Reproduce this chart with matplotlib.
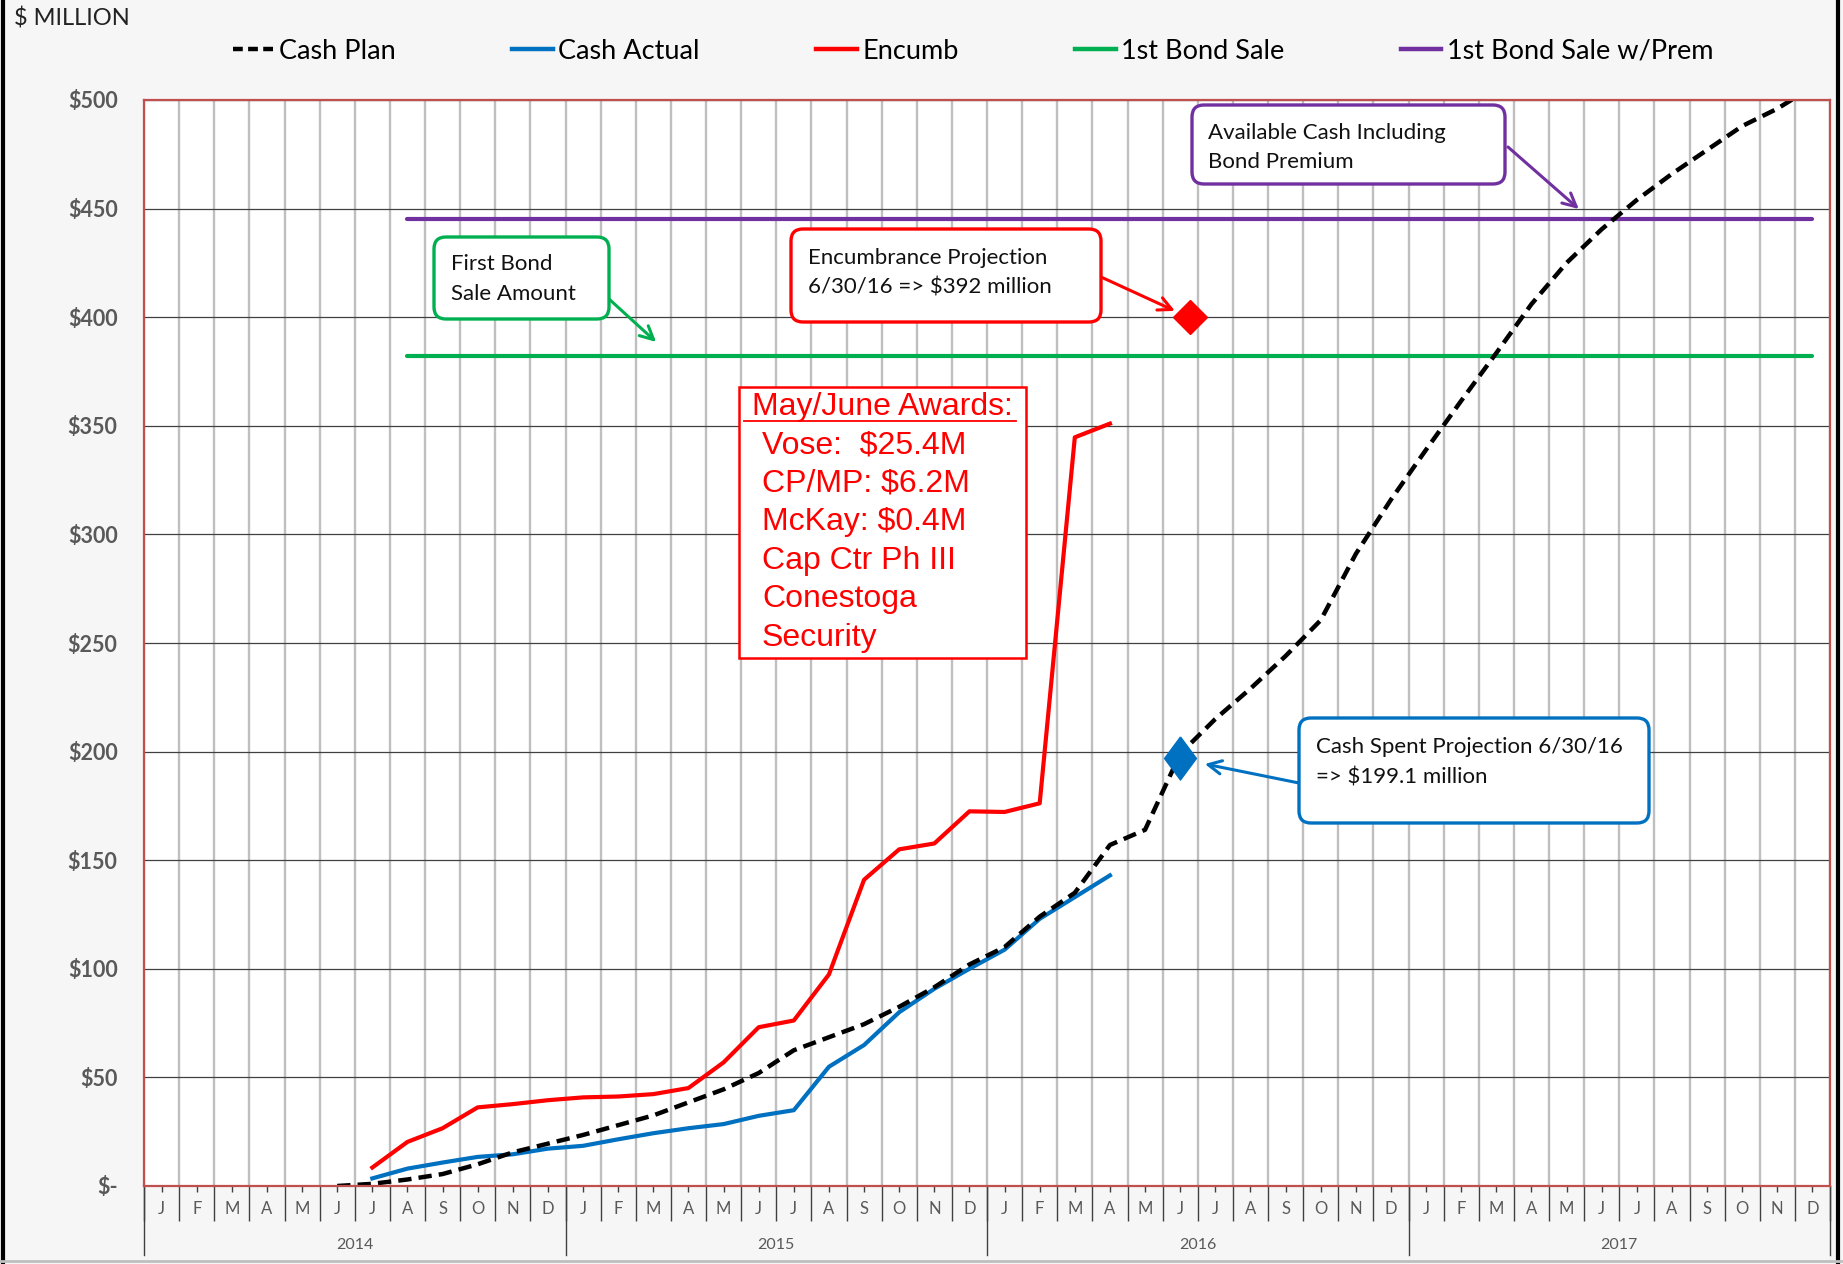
import numpy as np
import matplotlib
matplotlib.use('Agg')
import matplotlib.pyplot as plt
import matplotlib.transforms as mtransforms
from matplotlib.patches import FancyBboxPatch, Rectangle
from matplotlib.lines import Line2D

plt.rcParams['font.family'] = ['Lato', 'DejaVu Sans']

# ---------------- data ----------------
month_labels = ['J', 'F', 'M', 'A', 'M', 'J', 'J', 'A', 'S', 'O', 'N', 'D'] * 4
year_labels = ['2014', '2015', '2016', '2017']
y_ticks = [0, 50, 100, 150, 200, 250, 300, 350, 400, 450, 500]
y_tick_labels = ['$-', '$50', '$100', '$150', '$200', '$250', '$300',
                 '$350', '$400', '$450', '$500']

# month index 0 = Jan 2014
cash_plan_start = 5   # Jun 2014
cash_plan = [0, 1, 3, 5.5, 10, 15.5, 19.5,
             23.5, 28, 32.5, 38.5, 44.5, 52, 62.5, 68.5, 74.5, 82.5, 91.5, 102,
             110, 124, 135, 157, 164, 199, 215, 229, 244, 260.5, 291, 316,
             339, 361.5, 383.5, 406, 425, 440.5, 454, 466, 477, 488, 496, 506]

cash_actual_start = 6  # Jul 2014
cash_actual = [3.5, 8, 10.8, 13.4, 14.6, 17.2,
               18.5, 21.5, 24.3, 26.6, 28.5, 32.3, 34.9, 54.9, 64.9, 80, 90.8, 100,
               108.8, 123, 133, 143]

encumb_start = 6  # Jul 2014
encumb = [8.5, 20.3, 26.6, 36.2, 37.7, 39.5,
          40.8, 41.2, 42.3, 45.1, 56.9, 73.1, 76.2, 97.4, 141, 155, 157.7, 172.5,
          172.2, 176.2, 344.7, 351]

bond_start, bond_end = 7, 47     # Aug 2014 .. Dec 2017
bond_sale = 382
bond_sale_prem = 445

proj_month = 29          # Jun 2016
encumb_proj = 400
cash_proj = 197

# ---------------- figure ----------------
W, H, DPI = 1843, 1264, 100
fig = plt.figure(figsize=(W / DPI, H / DPI), dpi=DPI, facecolor='#F6F6F6')
T_IN = fig.dpi_scale_trans


def pin(x, y):
    """pixel (from top-left) -> inches (from bottom-left)"""
    return x / DPI, (H - y) / DPI


L, R, T, B = 144, 1830, 100, 1186
ax = fig.add_axes([L / W, 1 - B / H, (R - L) / W, (B - T) / H])
ax.set_facecolor('white')
ax.set_xlim(-0.5, 47.5)
ax.set_ylim(0, 500)

for s in ax.spines.values():
    s.set_color('#C0504D')
    s.set_linewidth(1.6)
    s.set_zorder(5)

ax.set_xticks(np.arange(-0.5, 48, 1))
ax.set_xticks(np.arange(0, 48, 1), minor=True)
ax.set_yticks(y_ticks)
ax.set_yticklabels(y_tick_labels, fontsize=15.5, fontweight='bold', color='#595959')
ax.tick_params(axis='y', length=0, pad=19)
ax.tick_params(axis='x', which='major', length=25, width=1.0, color='#404040',
               labelbottom=False)
ax.tick_params(axis='x', which='minor', length=4.5, width=1.0, color='#404040',
               labelbottom=False)
ax.grid(axis='x', which='major', color='#BFBFBF', lw=1.7, zorder=0)
ax.grid(axis='y', which='major', color='#404040', lw=0.9, zorder=0)
ax.set_axisbelow(True)

xt = ax.get_xaxis_transform()
for i, m in enumerate(month_labels):
    ax.text(i, -0.0215, m, transform=xt, ha='center', va='center',
            fontsize=12, color='#595959')
for k, yl in enumerate(year_labels):
    ax.text(12 * k + 5.5, -0.0545, yl, transform=xt, ha='center', va='center',
            fontsize=11.5, color='#595959')
for k in range(len(year_labels) + 1):
    ax.plot([12 * k - 0.5] * 2, [0, -0.0635], transform=xt, clip_on=False,
            color='#404040', lw=1.0)

# ---------------- series ----------------
x_bond = np.arange(bond_start, bond_end + 1)
ax.plot(x_bond, [bond_sale] * len(x_bond), color='#00B050', lw=3.0,
        solid_capstyle='round', label='1st Bond Sale', zorder=3)
ax.plot(x_bond, [bond_sale_prem] * len(x_bond), color='#7030A0', lw=3.0,
        solid_capstyle='round', label='1st Bond Sale w/Prem', zorder=3)

x_enc = np.arange(encumb_start, encumb_start + len(encumb))
l_enc, = ax.plot(x_enc, encumb, color='#FF0000', lw=3.0, label='Encumb', zorder=4)
x_act = np.arange(cash_actual_start, cash_actual_start + len(cash_actual))
l_act, = ax.plot(x_act, cash_actual, color='#0070C0', lw=3.0, label='Cash Actual',
                 zorder=4)
x_plan = np.arange(cash_plan_start, cash_plan_start + len(cash_plan))
l_plan, = ax.plot(x_plan, cash_plan, color='black', lw=3.2, dashes=(3, 1.6),
                  label='Cash Plan', zorder=4.5)

# red diamond sits slightly right of the month centre in the original
red_trans = mtransforms.offset_copy(ax.transData, fig=fig, x=7, y=0, units='points')
ax.plot([proj_month], [encumb_proj], marker='D', ms=17, color='#FF0000',
        zorder=6, ls='none', transform=red_trans)
thin_diamond = [(0, 0.5), (0.37, 0), (0, -0.5), (-0.37, 0), (0, 0.5)]
ax.plot([proj_month], [cash_proj], marker=thin_diamond, ms=31, color='#0070C0',
        zorder=6, ls='none')

# ---------------- legend ----------------
handles = [
    Line2D([], [], color='black', lw=3.2, dashes=(2.2, 1.2)),
    Line2D([], [], color='#0070C0', lw=3.2),
    Line2D([], [], color='#FF0000', lw=3.2),
    Line2D([], [], color='#00B050', lw=3.2),
    Line2D([], [], color='#7030A0', lw=3.2),
]
labels = ['Cash Plan', 'Cash Actual', 'Encumb', '1st Bond Sale', '1st Bond Sale w/Prem']
fig.legend(handles, labels, loc='center', bbox_to_anchor=(0.528, 0.9595), ncol=5,
           frameon=False, fontsize=19.5, handlelength=1.5, handletextpad=0.2,
           columnspacing=4.3)

fig.text(*pin(14, 19), '$ MILLION', transform=T_IN, ha='left', va='center',
         fontsize=17, color='#222222')


# ---------------- annotation boxes ----------------
def rbox(x0, y0, x1, y1, color, lw=2.4, rounding=0.12):
    p = FancyBboxPatch(pin(x0, y1), (x1 - x0) / DPI, (y1 - y0) / DPI,
                       boxstyle='round,pad=0,rounding_size=%s' % rounding,
                       transform=T_IN, fc='white', ec=color, lw=lw, zorder=2)
    fig.add_artist(p)


def btext(x, y, s, **kw):
    kw.setdefault('fontsize', 16)
    kw.setdefault('color', '#111111')
    fig.text(*pin(x, y), s, transform=T_IN, ha='left', va='center', zorder=3, **kw)


def arrow(x_from, y_from, xy, color):
    ax.annotate('', xy=xy, xycoords='data', xytext=pin(x_from, y_from),
                textcoords=T_IN,
                arrowprops=dict(arrowstyle='->', color=color, lw=2.2,
                                mutation_scale=24, shrinkA=0, shrinkB=0),
                annotation_clip=False, zorder=7)


# First bond sale (green)
rbox(434, 237, 609, 319, '#00B050')
btext(451, 264, 'First Bond')
btext(451, 294, 'Sale Amount')
arrow(609, 299, (14.08, 388.6), '#00B050')

# Encumbrance projection (red)
rbox(791, 229, 1101, 322, '#FF0000')
btext(808, 258, 'Encumbrance Projection')
btext(808, 288, '6/30/16 => $392 million')
arrow(1101, 277, (28.85, 402.9), '#FF0000')

# Available cash (purple)
rbox(1192, 105, 1505, 184, '#7030A0')
btext(1208, 133, 'Available Cash Including')
btext(1208, 162, 'Bond Premium')
arrow(1508, 147, (40.35, 449.8), '#7030A0')

# Cash spent projection (blue)
rbox(1299, 718, 1649, 823, '#0070C0')
btext(1316, 747, 'Cash Spent Projection 6/30/16')
btext(1316, 777, '=> $199.1 million')
arrow(1299, 783, (29.7, 194.3), '#0070C0')

# May/June awards (red square box)
fig.add_artist(Rectangle(pin(739, 658), (1026 - 739) / DPI, (658 - 387) / DPI,
                         transform=T_IN, fc='white', ec='#FF0000', lw=1.8,
                         zorder=2))
aw = dict(fontsize=23, color='#FF0000', family=['Liberation Sans', 'DejaVu Sans'])
btext(752, 407, 'May/June Awards:', **aw)
fig.add_artist(Line2D([744 / DPI, 1016 / DPI], [(H - 421) / DPI] * 2,
                      transform=T_IN, color='#FF0000', lw=1.3, zorder=3))
for yy, s in zip([446, 484, 522, 561, 599, 638],
                 ['Vose:  $25.4M', 'CP/MP: $6.2M', 'McKay: $0.4M',
                  'Cap Ctr Ph III', 'Conestoga', 'Security']):
    btext(762, yy, s, **aw)

# outer frame
fig.add_artist(Line2D([3 / DPI, 3 / DPI], [0, H / DPI], transform=T_IN,
                      color='black', lw=3))
fig.add_artist(Line2D([1838 / DPI, 1838 / DPI], [0, H / DPI], transform=T_IN,
                      color='black', lw=3))
fig.add_artist(Line2D([0, W / DPI], [(H - 1261) / DPI] * 2, transform=T_IN,
                      color='#BFBFBF', lw=2))

fig.savefig('out.png', dpi=DPI, facecolor=fig.get_facecolor())
